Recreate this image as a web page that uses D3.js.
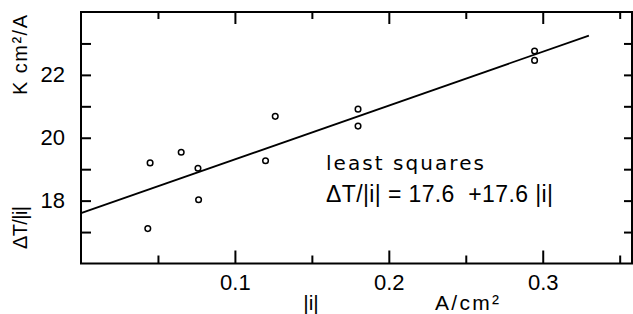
<!DOCTYPE html>
<html>
<head>
<meta charset="utf-8">
<script src="https://cdn.jsdelivr.net/npm/d3@7"></script>
<style>
  body { margin: 0; background: #fff; }
  svg { display: block; }
  .axis path { display: none; }
  .axis line { stroke: #000; stroke-width: 2; }
  .axis text { font-family: "Liberation Sans", Arial, sans-serif; font-size: 22px; fill: #000; }
  .label { font-family: "Liberation Sans", Arial, sans-serif; fill: #000; }
</style>
</head>
<body>
<div class="root"></div>
<script>
// measured points, |i| in A/cm2 and dT/|i| in K cm2/A
var currentVals = [0.0434, 0.0449, 0.0651, 0.0760, 0.0764, 0.1199, 0.1262, 0.1800, 0.1800, 0.2947, 0.2947];
var ratioVals   = [17.11, 19.20, 19.54, 19.03, 18.03, 19.27, 20.68, 20.91, 20.37, 22.76, 22.46];

// least squares line at its two ends
var fitX = [0, 0.33];
var fitY = [17.6, 23.25];

var xMajor = [0.1, 0.2, 0.3];
var xMinor = [0.05, 0.15, 0.25, 0.35];
var yTicks = [17, 18, 19, 20, 21, 22, 23];
var yLabels = [18, 20, 22];

function drawChart() {
  var w = 633, h = 314;
  var left = 81, right = 632, top = 12, bottom = 263.5;

  var svg = d3.select('.root').append('svg')
    .attr('width', w)
    .attr('height', h);

  var x = d3.scaleLinear().domain([0, 0.358]).range([left, right]);
  var y = d3.scaleLinear().domain([16, 24]).range([bottom, top]);

  // bottom axis
  svg.append('g').attr('class', 'axis')
    .attr('transform', 'translate(0,' + bottom + ')')
    .call(d3.axisBottom(x).tickValues(xMinor).tickSize(-8).tickFormat(''));
  svg.append('g').attr('class', 'axis')
    .attr('transform', 'translate(0,' + bottom + ')')
    .call(d3.axisBottom(x).tickValues(xMajor).tickSize(-13).tickPadding(11)
      .tickFormat(d3.format('.1f')));

  // top axis
  svg.append('g').attr('class', 'axis')
    .attr('transform', 'translate(0,' + top + ')')
    .call(d3.axisTop(x).tickValues(xMinor).tickSize(-7).tickFormat(''));
  svg.append('g').attr('class', 'axis')
    .attr('transform', 'translate(0,' + top + ')')
    .call(d3.axisTop(x).tickValues(xMajor).tickSize(-12).tickFormat(''));

  // left axis
  svg.append('g').attr('class', 'axis')
    .attr('transform', 'translate(' + left + ',0)')
    .call(d3.axisLeft(y).tickValues(yTicks).tickSize(-10).tickPadding(16)
      .tickFormat(function(d) { return yLabels.indexOf(d) >= 0 ? d : ''; }));

  // right axis
  svg.append('g').attr('class', 'axis')
    .attr('transform', 'translate(' + right + ',0)')
    .call(d3.axisRight(y).tickValues(yTicks).tickSize(-8).tickFormat(''));

  // frame
  svg.append('rect')
    .attr('x', left).attr('y', top)
    .attr('width', right - left).attr('height', bottom - top)
    .attr('fill', 'none').attr('stroke', '#000').attr('stroke-width', 2);

  // fit line
  var fit = fitX.map(function(d, i) { return [d, fitY[i]]; });
  svg.append('path')
    .datum(fit)
    .attr('fill', 'none')
    .attr('stroke', '#000')
    .attr('stroke-width', 1.8)
    .attr('d', d3.line().x(function(d) { return x(d[0]); }).y(function(d) { return y(d[1]); }));

  // points
  svg.append('g').selectAll('circle')
    .data(currentVals)
    .enter().append('circle')
      .attr('cx', function(d) { return x(d); })
      .attr('cy', function(d, i) { return y(ratioVals[i]); })
      .attr('r', 2.8)
      .attr('fill', '#fff')
      .attr('stroke', '#000')
      .attr('stroke-width', 1.5);

  // annotation
  svg.append('text').attr('class', 'label')
    .attr('x', 326).attr('y', 170)
    .style('font-family', '"DejaVu Sans", sans-serif')
    .style('font-size', '20px')
    .attr('textLength', 158).attr('lengthAdjust', 'spacing')
    .text('least squares');
  svg.append('text').attr('class', 'label')
    .attr('x', 326).attr('y', 202)
    .style('font-size', '23px')
    .attr('textLength', 227).attr('lengthAdjust', 'spacing')
    .attr('xml:space', 'preserve')
    .text('\u0394T/|i| = 17.6  +17.6 |i|');

  // y axis title
  svg.append('text').attr('class', 'label')
    .attr('transform', 'translate(27,95) rotate(-90)')
    .style('font-size', '20px')
    .attr('textLength', 80).attr('lengthAdjust', 'spacing')
    .text('K cm\u00b2/A');
  svg.append('text').attr('class', 'label')
    .attr('transform', 'translate(27,249) rotate(-90)')
    .style('font-size', '20px')
    .attr('textLength', 43).attr('lengthAdjust', 'spacing')
    .text('\u0394T/|i|');

  // x axis title
  svg.append('text').attr('class', 'label')
    .attr('x', 311).attr('y', 310)
    .attr('text-anchor', 'middle')
    .style('font-size', '21px')
    .text('|i|');
  svg.append('text').attr('class', 'label')
    .attr('x', 435).attr('y', 310)
    .style('font-size', '21px')
    .attr('textLength', 64).attr('lengthAdjust', 'spacing')
    .text('A/cm\u00b2');
}

window.onload = function() {
  drawChart();
};
</script>
</body>
</html>
